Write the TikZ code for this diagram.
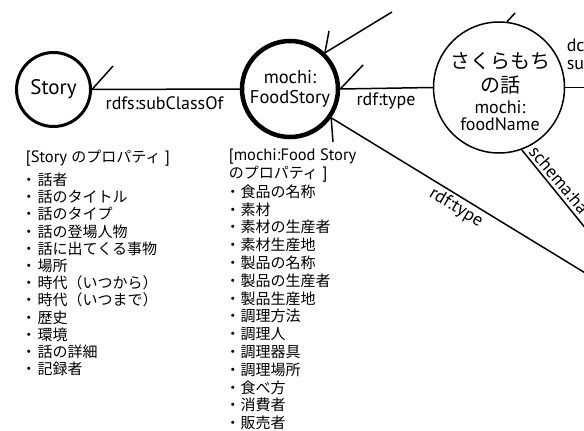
\documentclass[tikz,border=0pt]{standalone}
\usepackage{fontspec}
\setmainfont{Noto Sans CJK JP}
\newfontfamily\lat{PT Sans}
\begin{document}
\begin{tikzpicture}[x=1pt,y=-1pt,line width=1.5pt,
  cls/.style={circle,draw,inner sep=0pt},
  lbl/.style={inner sep=0pt,font=\lat\fontsize{18}{18}\selectfont},
  itm/.style={anchor=west,inner sep=0pt,text height=12.5pt,text depth=1.5pt,font=\fontsize{15}{15}\selectfont}]
\useasboundingbox (0,0) rectangle (584,431);
\clip (0,0) rectangle (584,431);

% class / instance nodes
\node[cls,line width=3pt,minimum size=74pt,font=\lat\fontsize{21}{21}\selectfont] (story) at (53.5,89.5) {Story};
\node[cls,line width=4.5pt,minimum size=96pt,align=center,font=\lat\fontsize{18.5}{20}\selectfont] (food) at (290,89) {mochi:\\FoodStory};
\node[cls,line width=1.5pt,minimum size=131pt] (sakura) at (499,87.5) {};
\node[inner sep=0pt,font=\fontsize{20}{20}\selectfont] (sk1) at (500,61) {さくらもち};
\node[inner sep=0pt,font=\fontsize{20}{20}\selectfont] (sk2) at (500,85) {の話};
\node[lbl] (sk3) at (500,107) {mochi:};
\node[lbl] (sk4) at (500,124) {foodName};

% free ends
\coordinate (tStory) at (113,66);
\coordinate (fTopEnd) at (392,12);
\coordinate (tFoodTop) at (329,31);
\coordinate (tFoodE) at (363,65);
\coordinate (fBotEnd) at (600,282);
\coordinate (tFoodBot) at (333,142);
\coordinate (tSak) at (515,13);
\coordinate (sEEnd) at (600,87.5);
\coordinate (sBotEnd) at (600,246);

% connectors
\draw (story.east) -- (food.west);
\draw (story.east) -- (tStory);
\draw (food.east) -- (sakura.west);
\draw (food.east) -- (tFoodE);
\draw (fTopEnd) -- (food.46);
\draw (tFoodTop) -- (food.46);
\draw (food.-35) -- (fBotEnd);
\draw (food.-35) -- (tFoodBot);
\draw (sakura.83) -- (tSak);
\draw (sakura.east) -- (sEEnd);
\draw (sakura.-70) -- (sBotEnd);

% edge labels
\node[lbl] (l1) at (164.5,103) {rdfs:subClassOf};
\node[lbl] (l2) at (386,101) {rdf:type};
\node[lbl,rotate=-31] (l3) at (456,208) {rdf:type};
\node[lbl,rotate=-50,anchor=south west] (l4) at (527,153) {schema:ha};
\node[lbl,anchor=west,align=left] (l5) at (566,54) {dc\\su};

% property lists
\node[itm] (h1) at (25,157) {{\lat\fontsize{16.5}{16}\selectfont[Story }のプロパティ{\lat\fontsize{16.5}{16}\selectfont\ ]}};
\foreach \t [count=\i] in {話者,話のタイトル,話のタイプ,話の登場人物,話に出てくる事物,場所,時代（いつから）,時代（いつまで）,歴史,環境,話の詳細,記録者}
  \node[itm] (a\i) at (25,{180+17.2*(\i-1)}) {\makebox[12pt][l]{\hspace{-4.5pt}・}\t};

\node[itm] (h2) at (228,155) {\lat\fontsize{16.5}{16}\selectfont[mochi:Food Story};
\node[itm] (h3) at (228,173) {のプロパティ{\lat\fontsize{16.5}{16}\selectfont\ ]}};
\foreach \t [count=\i] in {食品の名称,素材,素材の生産者,素材生産地,製品の名称,製品の生産者,製品生産地,調理方法,調理人,調理器具,調理場所,食べ方,消費者,販売者}
  \node[itm] (b\i) at (228,{191.7+17.8*(\i-1)}) {\makebox[12pt][l]{\hspace{-3.5pt}・}\t};
\end{tikzpicture}
\end{document}
